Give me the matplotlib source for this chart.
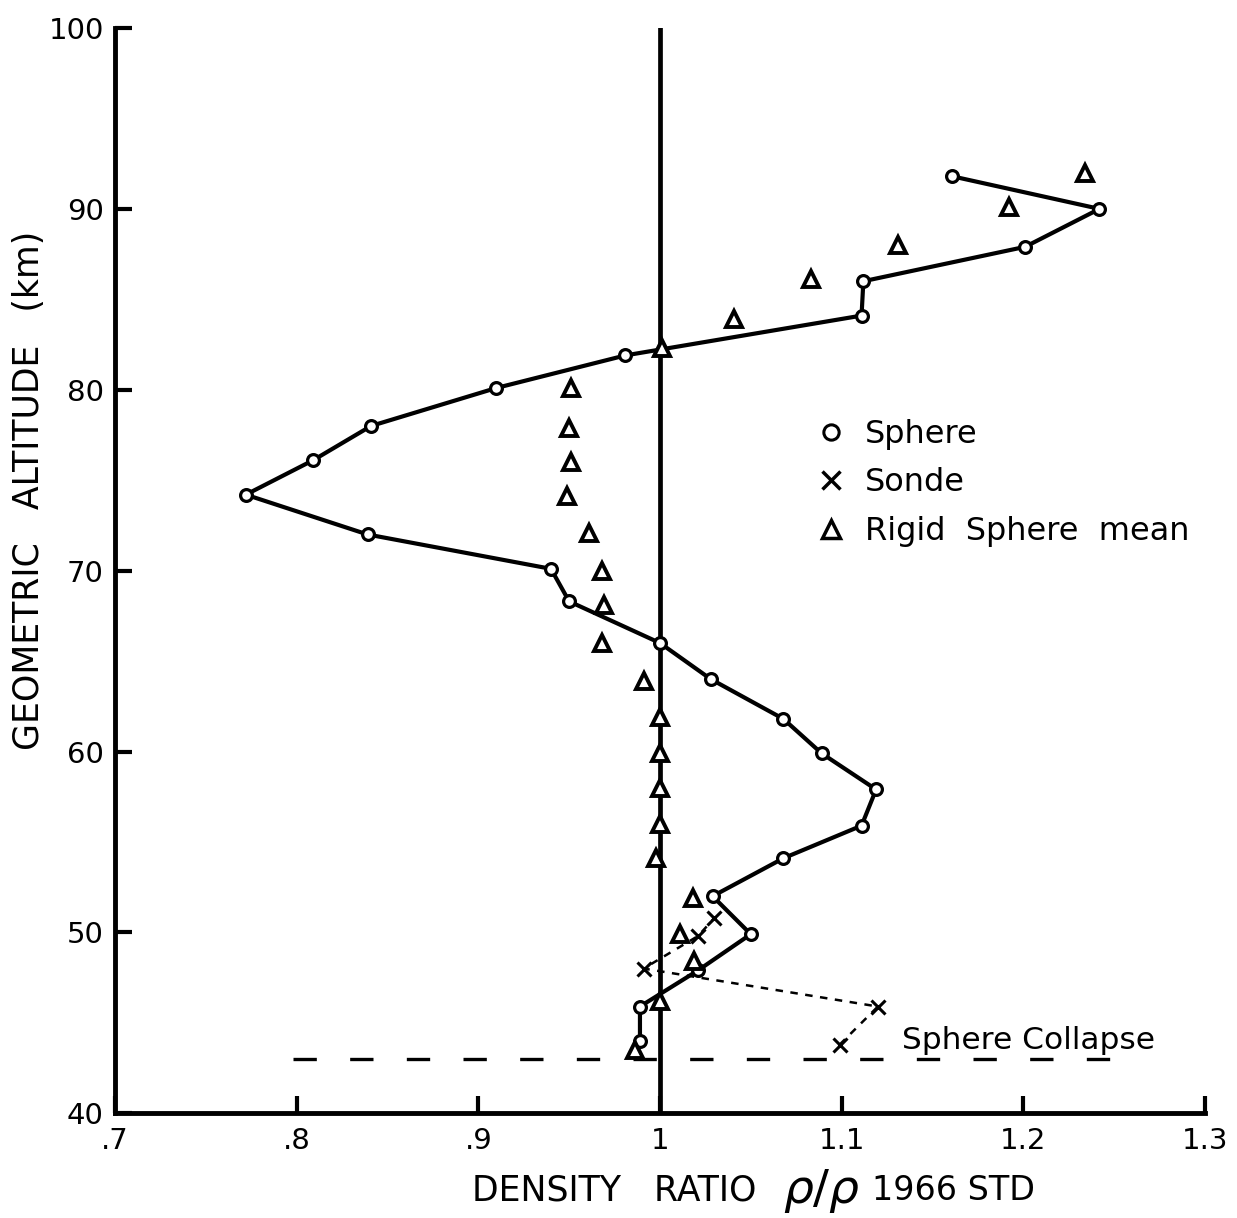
import matplotlib
matplotlib.use("Agg")
import matplotlib.pyplot as plt
from matplotlib.lines import Line2D

# values (density ratio vs altitude in km)
sphere_alt = [91.8, 90.0, 87.9, 86.0, 84.1, 81.9, 80.1, 78.0, 76.1, 74.2, 72.0, 70.1, 68.3,
              66.0, 64.0, 61.8, 59.9, 57.9, 55.9, 54.1, 52.0, 49.9, 47.9, 45.9, 44.0]
sphere_ratio = [1.161, 1.242, 1.201, 1.112, 1.111, 0.981, 0.910, 0.841, 0.809, 0.772, 0.839, 0.940, 0.950,
                1.000, 1.028, 1.068, 1.089, 1.119, 1.111, 1.068, 1.029, 1.050, 1.021, 0.989, 0.989]

rigid_alt = [92.0, 90.1, 88.0, 86.1, 83.9, 82.3, 80.1, 77.9, 76.0, 74.1, 72.1, 70.0, 68.1,
             66.0, 63.9, 61.9, 59.9, 58.0, 56.0, 54.1, 51.9, 49.9, 48.4, 46.2, 43.5]
rigid_ratio = [1.234, 1.192, 1.131, 1.083, 1.041, 1.001, 0.951, 0.950, 0.951, 0.949, 0.961, 0.968, 0.969,
               0.968, 0.991, 1.0, 1.0, 1.0, 1.0, 0.998, 1.018, 1.011, 1.019, 1.0, 0.986]

sonde_alt = [43.8, 45.9, 48.0, 49.8, 50.8]
sonde_ratio = [1.099, 1.120, 0.991, 1.021, 1.030]

collapse_alt = 43.0
collapse_ratio = [0.798, 1.256]

xticks = [0.7, 0.8, 0.9, 1.0, 1.1, 1.2, 1.3]
xtick_labels = [".7", ".8", ".9", "1", "1.1", "1.2", "1.3"]
yticks = [40, 50, 60, 70, 80, 90, 100]

plt.rcParams['font.family'] = ['DejaVu Sans']

fig = plt.figure(figsize=(12.37, 12.18), dpi=100)
ax = fig.add_axes([0.093, 0.086, 0.881, 0.891])

ax.axvline(1.0, color='k', lw=3.4, zorder=2)

ax.plot(sphere_ratio, sphere_alt, color='k', lw=3.0, marker='o', ms=8.5,
        mfc='white', mec='k', mew=2.3, zorder=3)
ax.plot(rigid_ratio, rigid_alt, ls='none', marker='^', ms=11,
        mfc='white', mec='k', mew=2.8, zorder=4)
ax.plot(sonde_ratio, sonde_alt, color='k', lw=1.8, ls=(0, (3, 3)), marker='x',
        ms=10, mew=2.2, zorder=3)
ax.plot(collapse_ratio, [collapse_alt, collapse_alt], color='k', lw=2.4,
        ls=(0, (7, 10)), zorder=2)

ax.text(1.133, 44.0, "Sphere Collapse", fontsize=22.5, ha='left', va='center')

ax.set_xlim(0.7, 1.3)
ax.set_ylim(40, 100)
ax.set_xticks(xticks)
ax.set_xticklabels(xtick_labels)
ax.set_yticks(yticks)

for side in ['top', 'right']:
    ax.spines[side].set_visible(False)
for side in ['left', 'bottom']:
    ax.spines[side].set_linewidth(3.5)

ax.tick_params(direction='in', length=12, width=3, labelsize=21)
ax.tick_params(axis='x', pad=10)
ax.tick_params(axis='y', pad=8)

ax.set_ylabel("GEOMETRIC   ALTITUDE   (km)", fontsize=25)
ax.yaxis.set_label_coords(-0.063, 0.574)

# x label in three pieces so the rho ratio can be drawn large
ax.text(0.589, -0.071, "DENSITY   RATIO", transform=ax.transAxes, fontsize=25,
        ha='right', va='center')
ax.text(0.648, -0.072, r"$\rho/\rho$", transform=ax.transAxes, fontsize=34,
        ha='center', va='center')
ax.text(0.695, -0.071, "1966 STD", transform=ax.transAxes, fontsize=24,
        ha='left', va='center')

handles = [
    Line2D([], [], ls='none', marker='o', ms=11, mfc='white', mec='k', mew=2.2),
    Line2D([], [], ls='none', marker='x', ms=13, mec='k', mew=2.5),
    Line2D([], [], ls='none', marker='^', ms=13, mfc='white', mec='k', mew=2.5),
]
labels = ["Sphere", "Sonde", "Rigid  Sphere  mean"]
ax.legend(handles, labels, loc='upper left', bbox_to_anchor=(0.647, 0.640),
          borderaxespad=0, borderpad=0, frameon=False, handlelength=0.7,
          handletextpad=0.7, labelspacing=0.55, fontsize=23)

fig.savefig("out.png", dpi=100)
